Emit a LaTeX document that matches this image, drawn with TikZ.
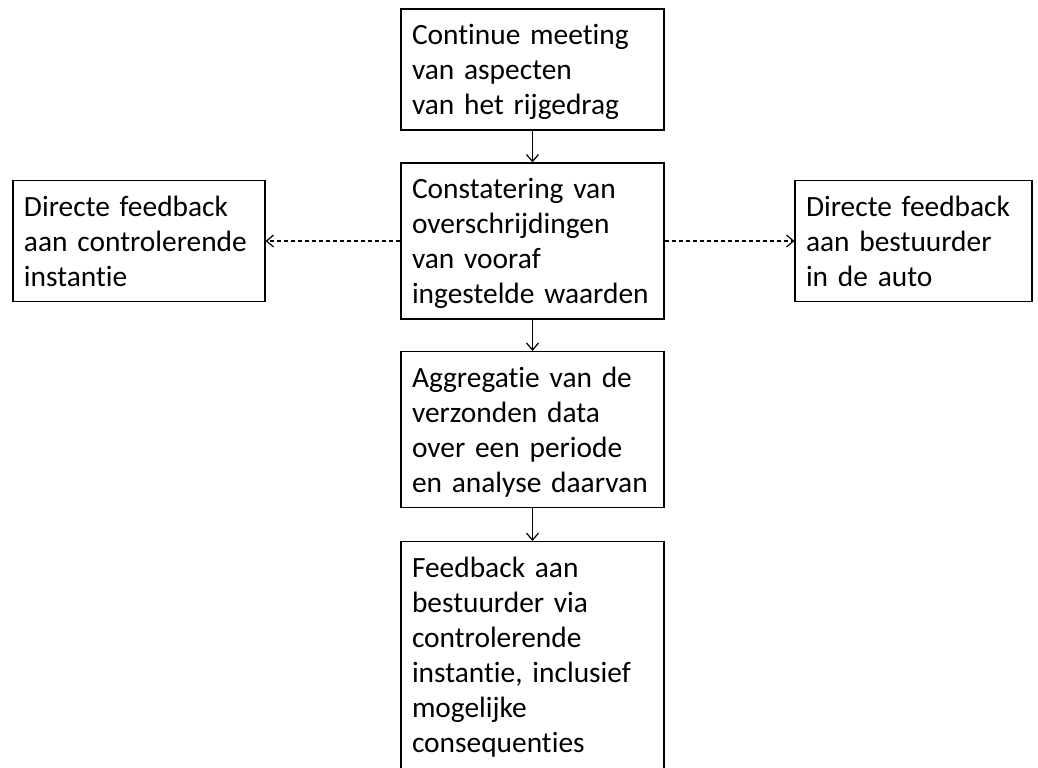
\documentclass[tikz,border=0pt]{standalone}
\usepackage{fontspec}
\setmainfont{Carlito}[Ligatures=CommonOff]
\usetikzlibrary{arrows.meta}

\begin{document}
\begin{tikzpicture}[x=0.5pt, y=-0.5pt, line width=0.6pt,
        >={Straight Barb[length=3.5pt, width=6pt]},
        blok/.style={draw, rectangle, align=left, inner xsep=5.5pt, inner ysep=4pt,
            font=\fontsize{14.7}{17.5}\selectfont,
            execute at begin node={\rule{0pt}{13.75pt}},
            execute at end node={\rule[-3.75pt]{0pt}{3.75pt}}},
        stippel/.style={dash pattern=on 2pt off 1.5pt}]

                \path[use as bounding box, fill=white] (0, 0) rectangle (1038, 767);
                \clip (0, 0) rectangle (1038, 767);

                % Nodes
                % midden: meting -> constatering -> aggregatie -> feedback
                % zijkant: instantie (links), auto (rechts)

                \node[blok, text width=120.5pt] at (532.5, 69.5) (meting) {Continue meeting\\van aspecten\\van het rijgedrag};
                \node[blok, text width=120.5pt] at (532.5, 241) (constatering) {Constatering van\\overschrijdingen\\van vooraf\\ingestelde waarden};
                \node[blok, text width=115pt] at (139, 241) (instantie) {Directe feedback\\aan controlerende\\instantie};
                \node[blok, text width=107.5pt] at (913.5, 241) (auto) {Directe feedback\\aan bestuurder\\in de auto};
                \node[blok, text width=120.5pt] at (532.5, 429.5) (aggregatie) {Aggregatie van de\\verzonden data\\over een periode\\en analyse daarvan};
                \node[blok, text width=120.5pt, anchor=north,
                    execute at end node={\rule[-9pt]{0pt}{9pt}}] at (532.5, 541) (feedback) {Feedback aan\\bestuurder via\\controlerende\\instantie, inclusief\\mogelijke\\consequenties};

                \draw[->] (meting) edge (constatering);
                \draw[->] (constatering) edge (aggregatie);
                \draw[->] (aggregatie) edge (feedback);

                \draw[->, stippel] (constatering) edge (instantie);
                \draw[->, stippel] (constatering) edge (auto);

            \end{tikzpicture}
\end{document}
